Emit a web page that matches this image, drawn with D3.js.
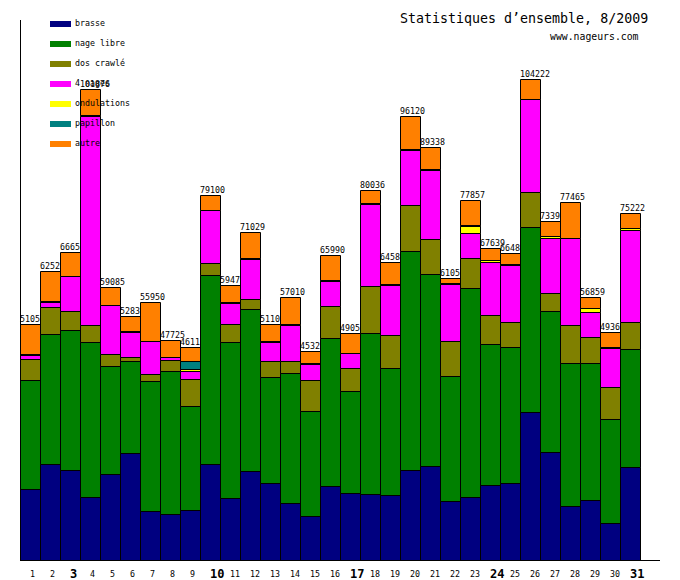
<!DOCTYPE html>
<html lang="fr">
<head>
<meta charset="UTF-8">
<title>Statistiques d'ensemble, 8/2009</title>
<script src="https://d3js.org/d3.v7.min.js"></script>
<style>
  body { margin: 0; background: #fff; }
  svg { display: block; }
  text { font-family: "DejaVu Sans Mono", monospace; fill: #000; }
  .small { font-size: 8.3px; }
</style>
</head>
<body>
<svg width="680" height="580"></svg>
<script>
// jours du mois (aout 2009), lundis en gras
const days = d3.range(1, 32);
const mondays = [3, 10, 17, 24, 31];

const keys = ["brasse", "nage libre", "dos crawlé", "4 nages", "ondulations", "papillon", "autre"];

const brasse      = [15370, 20719, 19485, 13640, 18554, 23166, 10609, 9959, 10825, 20719, 13358, 19204, 16671, 12341, 9526, 16021, 14506, 14289, 14073, 19420, 20286, 12774, 13575, 16173, 16606, 32042, 23317, 11626, 12925, 7946, 20070];
const nageLibre   = [23530, 28145, 30310, 33493, 23382, 19853, 28080, 30960, 22516, 40919, 33774, 35073, 22884, 28080, 22668, 31977, 22018, 34792, 27431, 47478, 41568, 26998, 45249, 30527, 29444, 39988, 30527, 30960, 29661, 22516, 25547];
const dosCrawle   = [4550, 5846, 4049, 3681, 2598, 866, 1516, 2382, 5781, 2598, 3897, 2165, 3464, 2598, 6712, 6928, 4980, 10176, 7145, 9894, 7578, 7578, 6495, 6279, 5413, 7578, 3897, 8227, 5629, 6928, 5846];
const quatreNages = [870, 1083, 7578, 45313, 10609, 5413, 7209, 585, 1797, 11475, 4547, 8660, 4114, 7794, 3464, 5413, 3248, 17753, 10825, 11908, 14939, 12341, 5542, 11475, 12341, 20135, 11908, 18836, 5413, 8444, 19918];
const ondulations = [110, 100, 0, 280, 0, 100, 0, 0, 368, 0, 100, 100, 100, 216, 100, 100, 0, 280, 100, 280, 100, 280, 1516, 563, 346, 0, 498, 0, 866, 100, 433];
const papillon    = [110, 100, 0, 0, 0, 100, 0, 0, 1797, 0, 100, 100, 100, 0, 100, 100, 0, 0, 100, 0, 100, 0, 150, 0, 0, 0, 0, 0, 0, 100, 0];
const autre       = [6515, 6532, 5233, 5469, 3942, 3337, 8536, 3839, 3031, 3389, 3699, 5727, 3772, 5981, 2755, 5451, 4303, 2746, 4911, 7140, 4767, 1084, 5330, 2622, 2335, 4479, 3248, 7816, 2365, 3331, 3408];

const totals = [51055, 62525, 66655, 101876, 59085, 52835, 55950, 47725, 46115, 79100, 59475, 71029, 51105, 57010, 45325, 65990, 49055, 80036, 64585, 96120, 89338, 61055, 77857, 67639, 66485, 104222, 73395, 77465, 56859, 49365, 75222];

const colors = ["#000080", "#008000", "#808000", "#ff00ff", "#ffff00", "#008080", "#ff8000"];

const svg = d3.select("svg");

const series = [brasse, nageLibre, dosCrawle, quatreNages, ondulations, papillon, autre];
const rows = days.map((d, i) => {
    const r = { day: d };
    keys.forEach((k, j) => r[k] = series[j][i]);
    return r;
});
const stacked = d3.stack().keys(keys)(rows);

const x = d3.scaleBand().domain(days).range([20, 640]).padding(0);
const y = d3.scaleLinear().domain([0, 116900]).range([560, 20]);

// barres une par une, le total est recouvert par la barre suivante
days.forEach((d, i) => {
    const g = svg.append("g");
    const x0 = x(d);
    stacked.forEach((s, j) => {
        if (s[i][1] - s[i][0] <= 0) return;
        const yb = Math.round(y(s[i][0])) + 0.5;
        const yt = Math.round(y(s[i][1])) + 0.5;
        g.append("path")
            .attr("d", `M${x0 + 0.5},${yt}h${x.bandwidth()}V${yb}h${-x.bandwidth()}Z`)
            .attr("fill", colors[j])
            .attr("stroke", "#000")
            .attr("stroke-width", 1);
    });
    g.append("text")
        .attr("class", "small")
        .attr("x", x0)
        .attr("y", Math.round(y(totals[i])) - 2)
        .text(totals[i]);
});

// axes
svg.append("line")
    .attr("x1", 20.5).attr("x2", 20.5)
    .attr("y1", 20).attr("y2", 560)
    .attr("stroke", "#000");
svg.append("line")
    .attr("x1", 20).attr("x2", 660)
    .attr("y1", 560.5).attr("y2", 560.5)
    .attr("stroke", "#000");

const xAxis = svg.append("g")
    .attr("transform", "translate(0,560)")
    .call(d3.axisBottom(x).tickSize(0).tickPadding(0));
xAxis.select(".domain").remove();
xAxis.selectAll("text")
    .attr("text-anchor", "start")
    .attr("dy", null)
    .attr("x", 0)
    .attr("y", d => mondays.includes(d) ? 18 : 17)
    .style("font-family", "'DejaVu Sans Mono', monospace")
    .style("font-size", d => mondays.includes(d) ? "12px" : "8.3px")
    .style("font-weight", d => mondays.includes(d) ? "bold" : "normal");

// legende
keys.forEach((k, j) => {
    svg.append("rect")
        .attr("x", 50).attr("y", 21 + 20 * j)
        .attr("width", 21).attr("height", 6)
        .attr("fill", colors[j]);
    svg.append("text")
        .attr("class", "small")
        .attr("x", 75).attr("y", 25.5 + 20 * j)
        .text(k);
});

// titre
svg.append("text")
    .attr("x", 400).attr("y", 22.5)
    .style("font-size", "13.3px")
    .text("Statistiques d’ensemble, 8/2009");
svg.append("text")
    .attr("x", 550).attr("y", 40)
    .style("font-size", "9.8px")
    .text("www.nageurs.com");
</script>
</body>
</html>
